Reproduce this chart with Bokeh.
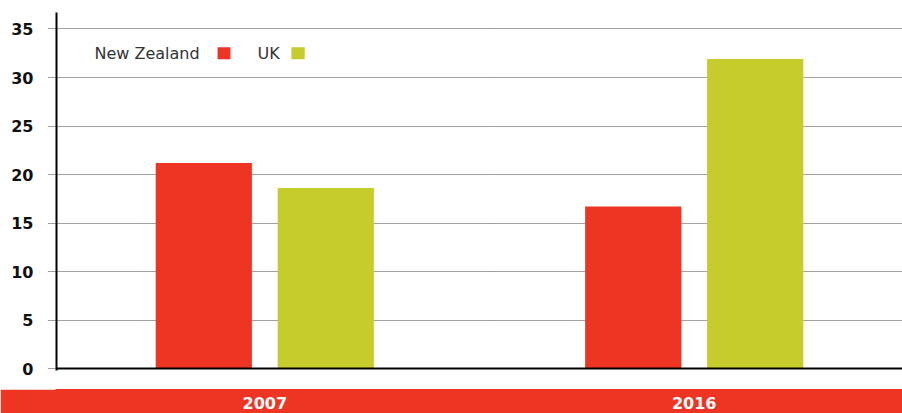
from bokeh.plotting import figure
from bokeh.models import ColumnDataSource, FactorRange, Range1d, BoxAnnotation, Label, FixedTicker, Span
from bokeh.layouts import column
from bokeh.core.properties import value
from bokeh.transform import dodge
from bokeh.embed import file_html
from bokeh.resources import INLINE

years = ["2007", "2016"]
new_zealand = [21.2, 16.7]
uk = [18.6, 31.9]
series_names = ["New Zealand", "UK"]
y_ticks = [0, 5, 10, 15, 20, 25, 30, 35]

RED = "#EE3524"
GREEN = "#C6CC2B"

src = ColumnDataSource(dict(year=years, nz=new_zealand, uk=uk))
xr = FactorRange(*years, range_padding=-0.015, range_padding_units="absolute")

p = figure(width=902, height=389, x_range=xr,
           y_range=Range1d(-0.2, 36.7), output_backend="svg", toolbar_location=None,
           x_axis_location=None,
           min_border_left=56, min_border_right=0, min_border_top=12, min_border_bottom=19)
p.outline_line_color = None
p.background_fill_color = "white"
p.border_fill_color = "white"

p.vbar(x=dodge("year", -0.142, range=xr), top="nz", bottom=0, width=0.224, source=src,
       fill_color=RED, line_color=None)
p.vbar(x=dodge("year", 0.142, range=xr), top="uk", bottom=0, width=0.224, source=src,
       fill_color=GREEN, line_color=None)

# baseline (x axis line)
p.add_layout(Span(location=0, dimension="width", line_color="black", line_width=2))

# grid
p.xgrid.grid_line_color = None
p.ygrid.grid_line_color = "#444444"
p.ygrid.grid_line_dash = "1 1"
p.ygrid.grid_line_width = 1
p.ygrid.ticker = FixedTicker(ticks=y_ticks[1:])

# y axis
ya = p.yaxis[0]
ya.ticker = FixedTicker(ticks=y_ticks)
ya.axis_line_color = "black"
ya.axis_line_width = 2
ya.major_tick_line_color = "#444444"
ya.major_tick_line_dash = "1 1"
ya.major_tick_out = 8
ya.major_tick_in = 0
ya.minor_tick_line_color = None
ya.major_label_standoff = 15
ya.major_label_text_font = "DejaVu Sans"
ya.major_label_text_font_size = "16px"
ya.major_label_text_font_style = "bold"
ya.major_label_text_color = "#111111"

# legend (text before swatch)
leg_y = 32.5
p.add_layout(Label(x=0.1035, y=leg_y, text=series_names[0], text_font="DejaVu Sans", text_font_size="16px",
                   text_color="#333333", text_baseline="middle"))
p.add_layout(BoxAnnotation(left=0.390, right=0.420, bottom=leg_y - 0.62, top=leg_y + 0.62,
                           fill_color=RED, fill_alpha=1, line_color=None))
p.add_layout(Label(x=0.483, y=leg_y, text=series_names[1], text_font="DejaVu Sans", text_font_size="16px",
                   text_color="#333333", text_baseline="middle"))
p.add_layout(BoxAnnotation(left=0.562, right=0.593, bottom=leg_y - 0.62, top=leg_y + 0.62,
                           fill_color=GREEN, fill_alpha=1, line_color=None))

# red band with the category labels, sharing the x range
band = figure(width=902, height=24, x_range=xr, y_range=Range1d(0, 1),
              output_backend="svg", toolbar_location=None,
              x_axis_location=None, y_axis_location=None,
              min_border_left=56, min_border_right=0, min_border_top=0, min_border_bottom=0)
band.grid.visible = False
band.outline_line_color = RED
band.outline_line_width = 2
band.background_fill_color = RED
band.border_fill_color = RED
band.text(x=years, y=[0.42, 0.42], text=years, text_color="white",
          text_font=value("DejaVu Sans"), text_font_size="16px", text_font_style="bold",
          text_align="center", text_baseline="middle")

layout = column(p, band, spacing=0)
open("out.html", "w").write(file_html(layout, INLINE))
